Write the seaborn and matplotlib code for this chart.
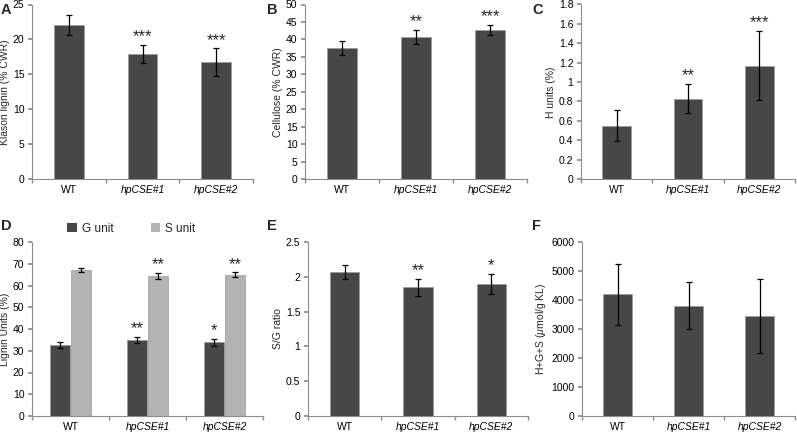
import matplotlib
matplotlib.use("Agg")
import matplotlib.pyplot as plt
import seaborn as sns
import pandas as pd
import numpy as np
from matplotlib.ticker import FuncFormatter, FixedLocator

sns.set_theme(style="white")
plt.rcParams['font.family'] = ['Liberation Sans', 'DejaVu Sans']
plt.rcParams['mathtext.fontset'] = 'custom'
plt.rcParams['mathtext.it'] = 'Liberation Sans:italic'

lines = ["WT", "hpCSE#1", "hpCSE#2"]

klason = [22.1, 17.95, 16.7]
klason_err = [1.45, 1.3, 2.0]
klason_sig = ["", "***", "***"]

cellulose = [37.5, 40.6, 42.8]
cellulose_err = [1.95, 2.05, 1.4]
cellulose_sig = ["", "**", "***"]

h_units = [0.55, 0.83, 1.17]
h_err = [0.16, 0.15, 0.36]
h_sig = ["", "**", "***"]

g_units = [32.6, 34.9, 34.0]
g_err = [1.3, 1.3, 1.6]
g_sig = ["", "**", "*"]
s_units = [67.0, 64.4, 64.9]
s_err = [1.0, 1.3, 1.1]
s_sig = ["", "**", "**"]

sg_ratio = [2.07, 1.85, 1.90]
sg_err = [0.10, 0.12, 0.14]
sg_sig = ["", "**", "*"]

total = [4200, 3800, 3450]
total_err = [1050, 810, 1280]
total_sig = ["", "", ""]

DARK = "#474747"
LIGHT = "#b3b3b3"
SPINE = "#8c8c8c"

W, H = 797, 434
fig = plt.figure(figsize=(W / 100, H / 100), dpi=100)


def add_ax(left, right, top, bottom):
    return fig.add_axes([left / W, (H - bottom) / H, (right - left) / W, (bottom - top) / H])


def fmt(v, pos):
    return "%g" % round(v, 3)


def style(ax, ymax, step, ylabel):
    ax.set_xlim(-0.5, 2.5)
    ax.set_ylim(0, ymax)
    ax.yaxis.set_major_locator(FixedLocator(np.arange(0, ymax + step / 2, step)))
    ax.yaxis.set_major_formatter(FuncFormatter(fmt))
    for s in ["top", "right"]:
        ax.spines[s].set_visible(False)
    for s in ["left", "bottom"]:
        ax.spines[s].set_color(SPINE)
        ax.spines[s].set_linewidth(0.8)
    ax.set_xticks([0, 1, 2])
    ax.set_xticks([-0.5, 0.5, 1.5, 2.5], minor=True)
    ax.tick_params(axis="x", which="major", length=0, pad=4, labelsize=7.5, colors="black")
    ax.tick_params(axis="x", which="minor", length=3, color=SPINE, direction="out", bottom=True)
    ax.tick_params(axis="y", length=3, color=SPINE, direction="out", left=True, labelsize=7.5, pad=2.5,
                   labelcolor="black")
    ax.set_xticklabels(lines)
    for lab in ax.get_xticklabels():
        if lab.get_text() != "WT":
            lab.set_fontstyle("italic")
    ax.set_ylabel(ylabel, fontsize=7.5, labelpad=2)
    ax.set_xlabel("")


def stars(ax, x0, top, s):
    ax.annotate(s, (x0, top), xytext=(0, 0.5), textcoords="offset points",
                ha="center", va="bottom", fontsize=12)


def single(ax, vals, errs, sigs, ymax, step, ylabel):
    df = pd.DataFrame({"line": lines, "val": vals})
    sns.barplot(data=df, x="line", y="val", ax=ax, color=DARK, width=0.4, errorbar=None,
                edgecolor="#9a9a9a", linewidth=0.5, saturation=1)
    ax.errorbar(range(3), vals, yerr=errs, fmt="none", ecolor="black", elinewidth=0.9,
                capsize=2.5, capthick=0.9)
    for i, (v, e, s) in enumerate(zip(vals, errs, sigs)):
        if s:
            stars(ax, i, v + e, s)
    style(ax, ymax, step, ylabel)


def letter(x, y, t):
    fig.text(x / W, 1 - y / H, t, fontsize=10.5, fontweight="bold", va="top", ha="left")


axA = add_ax(32, 253, 4.5, 179)
single(axA, klason, klason_err, klason_sig, 25, 5, "Klason lignin (% CWR)")
axB = add_ax(305, 527, 4.5, 179)
single(axB, cellulose, cellulose_err, cellulose_sig, 50, 5, "Cellulose (% CWR)")
axC = add_ax(581, 795, 4.5, 179)
single(axC, h_units, h_err, h_sig, 1.8, 0.2, "H units (%)")

# Panel D grouped
axD = add_ax(32, 263, 242, 416)
dfD = pd.DataFrame({
    "line": lines * 2,
    "unit": ["G unit"] * 3 + ["S unit"] * 3,
    "val": g_units + s_units,
})
sns.barplot(data=dfD, x="line", y="val", hue="unit", ax=axD, palette=[DARK, LIGHT],
            width=0.54, errorbar=None, edgecolor="#9a9a9a", linewidth=0.5, saturation=1, gap=0.02)
off = 0.54 / 4
xg = np.arange(3) - off
xs = np.arange(3) + off
axD.errorbar(xg, g_units, yerr=g_err, fmt="none", ecolor="black", elinewidth=0.9, capsize=2.5, capthick=0.9)
axD.errorbar(xs, s_units, yerr=s_err, fmt="none", ecolor="black", elinewidth=0.9, capsize=2.5, capthick=0.9)
for xx, vals, errs, sigs in [(xg, g_units, g_err, g_sig), (xs, s_units, s_err, s_sig)]:
    for x0, v, e, s in zip(xx, vals, errs, sigs):
        if s:
            stars(axD, x0, v + e, s)
style(axD, 80, 10, "Lignin Units (%)")
leg = axD.legend(loc="center", bbox_to_anchor=(0.43, 1.075), ncol=2, frameon=False,
                 fontsize=8.5, handlelength=0.8, handleheight=0.8, handletextpad=0.4,
                 columnspacing=3.2, borderaxespad=0)
for h in leg.legend_handles:
    h.set_edgecolor("none")

axE = add_ax(308, 528, 242, 416)
single(axE, sg_ratio, sg_err, sg_sig, 2.5, 0.5, "S/G ratio")
axF = add_ax(582, 795, 242, 416)
single(axF, total, total_err, total_sig, 6000, 1000, "H+G+S ($\\mathit{\\mu}$mol/g KL)")

letter(1, 3, "A")
letter(267, 3, "B")
letter(532, 3, "C")
letter(1, 219, "D")
letter(267, 219, "E")
letter(532, 219, "F")

fig.savefig("out.png", dpi=100)
